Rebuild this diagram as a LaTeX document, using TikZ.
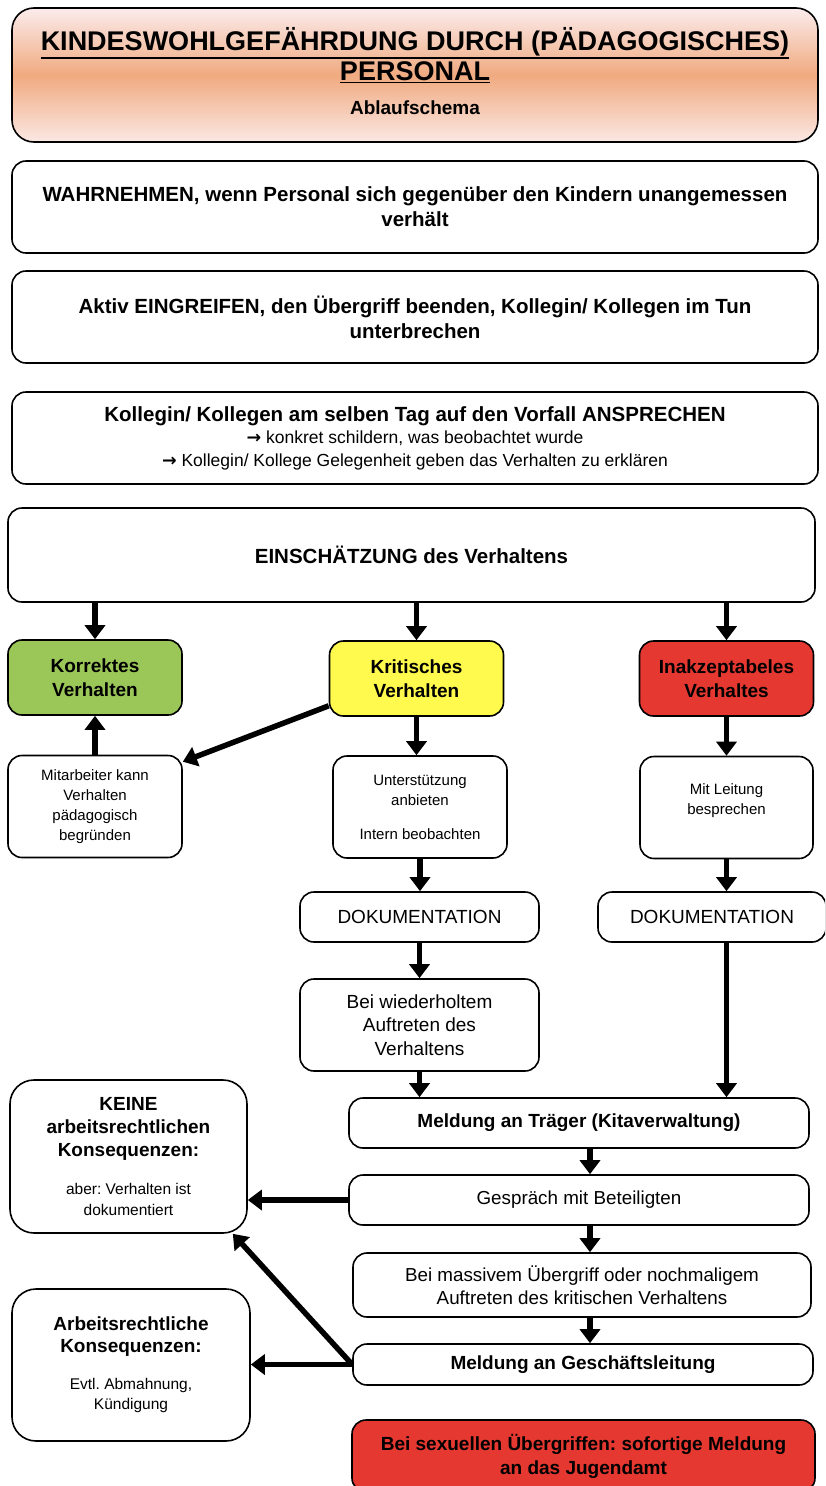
\documentclass[tikz,border=0pt]{standalone}
\usepackage{fontspec}
\setmainfont{Liberation Sans}
\newfontfamily\arrowfont{DejaVu Sans}
\usetikzlibrary{arrows.meta,shapes,positioning,calc}
\frenchspacing
\newcommand{\setfs}[2]{\fontsize{#1}{#2}\selectfont}
\newcommand{\hb}{\setfs{19}{23}\bfseries}
\newcommand{\pointer}{{\arrowfont\bfseries →}}
\newcommand{\thickul}[1]{\leavevmode\vtop{\hbox{#1}\kern1pt\hrule height 1.7pt}}
\definecolor{okgreen}{RGB}{155,199,88}
\definecolor{warnyellow}{RGB}{255,250,77}
\definecolor{stopred}{RGB}{229,56,48}
\definecolor{headtop}{RGB}{251,236,236}
\definecolor{headmid}{RGB}{240,170,128}
\definecolor{headbot}{RGB}{251,232,228}
\tikzset{
  box/.style={
    draw=black, line width=1.6pt,
    rounded corners=14pt,
    fill=white,
    align=center,
    inner sep=2pt},
  wide/.style={box, minimum width=806pt, minimum height=92pt},
  state/.style={box, minimum width=174pt, minimum height=75pt,
    font=\setfs{19}{24}\bfseries},
  small/.style={box, minimum width=174pt, minimum height=102pt,
    font=\setfs{15}{20}},
  flow/.style={line width=5.5pt, -{Triangle[length=14pt,width=20pt]}},
}

\begin{document}
\begin{tikzpicture}[x=1pt, y=-1pt]
    \clip (0,0) rectangle (825,1486);
    \fill[white] (0,0) rectangle (825,1486);

    % Kopf
    \node[draw=black, line width=1.6pt, rounded corners=22pt,
        top color=headtop, bottom color=headbot, middle color=headmid,
        minimum width=806pt, minimum height=134pt, align=center,
        font=\setfs{27}{30}\bfseries] (head) at (415,75)
        {\thickul{KINDESWOHLGEFÄHRDUNG DURCH (PÄDAGOGISCHES)}\\
         \thickul{PERSONAL}\\[4pt]
         {\setfs{19}{22}Ablaufschema}\\[-22pt]};

    % Schritte
    \node[wide, font=\setfs{20.5}{25}\bfseries] (wahr) at (415,207)
        {WAHRNEHMEN, wenn Personal sich gegenüber den Kindern unangemessen\\verhält};
    \node[wide, font=\setfs{20.5}{25}\bfseries] (eingr) at (415,317)
        {Aktiv EINGREIFEN, den Übergriff beenden, Kollegin/ Kollegen im Tun\\unterbrechen};
    \node[wide, font=\setfs{17.5}{22.5}] (anspr) at (415,438)
        {{\setfs{20.5}{24}\bfseries Kollegin/ Kollegen am selben Tag auf den Vorfall ANSPRECHEN}\\
         \pointer{} konkret schildern, was beobachtet wurde\\
         \pointer{} Kollegin/ Kollege Gelegenheit geben das Verhalten zu erklären};
    \node[box, minimum width=807pt, minimum height=94pt,
        font=\setfs{20.5}{25}\bfseries] (einsch) at (411.5,555)
        {EINSCHÄTZUNG des Verhaltens};

    % Bewertung
    \node[state, fill=okgreen] (korr) at (95,677.5) {Korrektes\\Verhalten};
    \node[state, fill=warnyellow] (krit) at (416.5,678.5) {Kritisches\\Verhalten};
    \node[state, fill=stopred] (inakz) at (726.5,678.5) {Inakzeptabeles\\Verhaltes};

    \node[small] (mitarb) at (95,806.5)
        {Mitarbeiter kann\\Verhalten\\pädagogisch\\begründen};
    \node[small] (unterst) at (420,807)
        {Unterstützung\\anbieten\\[14pt]Intern beobachten};
    \node[small, minimum width=173pt] (leitung) at (726.5,807.5)
        {Mit Leitung\\besprechen\\[-4pt]};

    \node[box, minimum width=239pt, minimum height=50pt,
        font=\setfs{19}{23.5}] (doku1) at (419.5,917) {DOKUMENTATION};
    \node[box, minimum width=228pt, minimum height=50pt,
        font=\setfs{19}{23.5}] (doku2) at (712,917) {DOKUMENTATION};
    \node[box, minimum width=239pt, minimum height=92pt,
        font=\setfs{19}{23.5}] (wied) at (419.5,1025)
        {Bei wiederholtem\\Auftreten des\\Verhaltens};

    % Meldeweg
    \node[box, minimum width=460pt, minimum height=50pt,
        font=\setfs{19}{23}\bfseries] (traeger) at (579,1123)
        {Meldung an Träger (Kitaverwaltung)};
    \node[box, minimum width=460pt, minimum height=50pt,
        font=\setfs{18.8}{23}] (gespr) at (579,1200)
        {Gespräch mit Beteiligten};
    \node[box, minimum width=458pt, minimum height=64pt,
        font=\setfs{18.8}{23}] (massiv) at (582,1285)
        {Bei massivem Übergriff oder nochmaligem\\Auftreten des kritischen Verhaltens};
    \node[box, minimum width=460pt, minimum height=41pt,
        font=\setfs{19}{23}\bfseries] (gl) at (583,1364.5)
        {Meldung an Geschäftsleitung};
    \node[box, fill=stopred, minimum width=463pt, minimum height=72pt,
        font=\setfs{19}{24}\bfseries] (sex) at (583.5,1456)
        {Bei sexuellen Übergriffen: sofortige Meldung\\an das Jugendamt};

    % Konsequenzen
    \node[box, rounded corners=24pt, minimum width=237pt, minimum height=153pt,
        font=\setfs{15.5}{20.5}] (keine) at (128.5,1156.5)
        {{\hb KEINE}\\[2.5pt]{\hb arbeitsrechtlichen}\\[2.5pt]{\hb Konsequenzen:}\\[18pt]
         aber: Verhalten ist\\dokumentiert};
    \node[box, rounded corners=24pt, minimum width=238pt, minimum height=152pt,
        font=\setfs{15.5}{20.5}] (arbr) at (131,1365)
        {{\hb Arbeitsrechtliche}\\[1.5pt]{\hb Konsequenzen:}\\[16pt]
         Evtl. Abmahnung,\\Kündigung};

    % Pfeile
    \draw[flow] (korr.north |- einsch.south) -- (korr.north);
    \draw[flow] (krit.north |- einsch.south) -- (krit.north);
    \draw[flow] (inakz.north |- einsch.south) -- (inakz.north);
    \draw[flow] (mitarb.north) -- (korr.south);
    \draw[flow] ([yshift=11pt]krit.south west) -- ([yshift=-7pt]mitarb.north east);
    \draw[flow] (krit.south) -- (krit.south |- unterst.north);
    \draw[flow] (inakz.south) -- (leitung.north);
    \draw[flow] (unterst.south) -- (unterst.south |- doku1.north);
    \draw[flow] (leitung.south) -- (leitung.south |- doku2.north);
    \draw[flow] (doku1.south) -- (wied.north);
    \draw[flow] (wied.south) -- (wied.south |- traeger.north);
    \draw[flow] (leitung.south |- doku2.south) -- (leitung.south |- traeger.north);
    \draw[flow] ([xshift=11pt]traeger.south) -- ([xshift=11pt]traeger.south |- gespr.north);
    \draw[flow] ([xshift=11pt]gespr.south) -- ([xshift=11pt]gespr.south |- massiv.north);
    \draw[flow] ([xshift=8pt]massiv.south) -- ([xshift=8pt]massiv.south |- gl.north);
    \draw[flow] (gespr.west) -- (gespr.west -| keine.east);
    \draw[flow] (gl.west) -- (gl.west -| arbr.east);
    \draw[flow] (gl.west) -- ([xshift=-15pt]keine.south east);
\end{tikzpicture}
\end{document}
